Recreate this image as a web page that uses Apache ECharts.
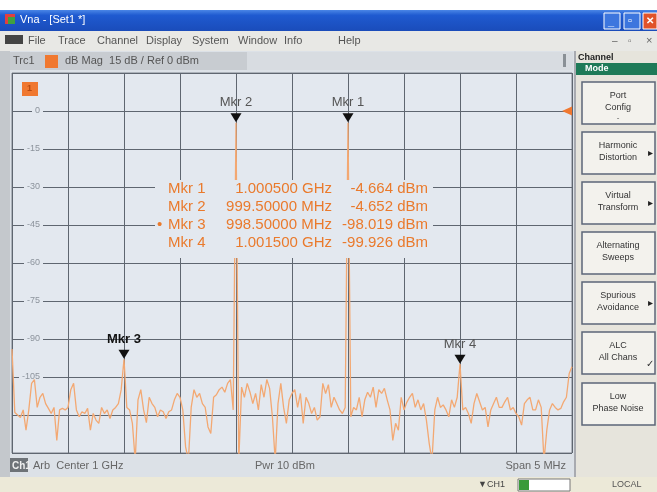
<!DOCTYPE html>
<html><head><meta charset="utf-8">
<script src="https://cdn.jsdelivr.net/npm/echarts@6/dist/echarts.min.js"></script>
<style>html,body{margin:0;padding:0;background:#fff;}#c{width:657px;height:492px;}</style>
</head><body><div id="c"></div>
<script>
// ---- data ----
const startMHz = 997.5, stopMHz = 1002.5, sweepPoints = 201;
const yLabelTicks = [0, -15, -30, -45, -60, -75, -90, -105];
const traceLevels = [
  -94, -119, -120, -121, -118, -126, -118, -107.5, -106, -117,
  -113, -111.5, -115.5, -117.4, -119.4, -117, -130, -118, -117.4, -118,
  -117, -110, -107.5, -118, -120.7, -118.7, -119.4, -117.4, -126, -119.4,
  -122, -123.3, -117, -119.4, -118, -121.4, -118, -117, -115.5, -110,
  -98.019, -117, -118, -123.3, -138, -114, -110, -118, -123, -113,
  -115.5, -117, -120.7, -118, -118.7, -121.4, -118.7, -118, -114, -111.5,
  -113, -118, -132.6, -138, -117, -110, -113, -111.5, -115.5, -117,
  -124.7, -127.3, -113, -112, -110, -109, -111, -107.5, -106, -118,
  -4.652, -138, -109, -113, -107.5, -111, -115.5, -111.5, -118, -108,
  -113, -106, -109.5, -120.7, -138, -115.5, -107.5, -117, -123.3, -114,
  -111.5, -110, -117, -111.5, -123.3, -113, -115.5, -119.4, -117, -122,
  -120.7, -107.5, -111.5, -108, -117, -113, -115.5, -118, -119.4, -117,
  -4.664, -120.7, -117, -118, -113, -120.7, -114, -111, -113, -109,
  -117, -110, -111.5, -109.5, -114, -118, -130, -123.3, -126, -113,
  -118, -115, -113, -111.5, -117, -114, -118, -115.5, -122, -131.2,
  -138, -118, -113, -117, -116, -118, -120.7, -114, -117, -113,
  -99.926, -118, -117, -119.4, -123.3, -115.5, -111.5, -114.8, -118, -117,
  -124.7, -118, -115.5, -113, -117, -117, -114.8, -113, -118, -117,
  -119.4, -120.7, -124, -115.5, -114, -113, -118, -118, -114, -117,
  -138, -126, -118, -115.5, -117, -118, -117.4, -114.8, -113, -103.6,
  -101
];
const markerNames = ['Mkr 1', 'Mkr 2', 'Mkr 3', 'Mkr 4'];
const markerFreqMHz = [1000.5, 999.5, 998.5, 1001.5];
const markerLevels = [-4.664, -4.652, -98.019, -99.926];
const markerFreqText = ['1.000500 GHz', '999.50000 MHz', '998.50000 MHz', '1.001500 GHz'];
const markerLevelText = ['-4.664 dBm', '-4.652 dBm', '-98.019 dBm', '-99.926 dBm'];
const activeMarker = 2;
const refLevel = 0;
const menuItems = ['File', 'Trace', 'Channel', 'Display', 'System', 'Window', 'Info', 'Help'];
const softkeys = [['Port', 'Config'], ['Harmonic', 'Distortion'], ['Virtual', 'Transform'],
  ['Alternating', 'Sweeps'], ['Spurious', 'Avoidance'], ['ALC', 'All Chans'], ['Low', 'Phase Noise']];
const softkeyFlags = ['', '▸', '▸', '', '▸', '✓', ''];

// ---- build ----
const step = (stopMHz - startMHz) / (sweepPoints - 1);
const traceData = traceLevels.map((v, i) => [startMHz + i * step, v]);
const FONT = 'Liberation Sans';

const mpData = [];
markerNames.forEach((n, k) => {
  mpData.push({ coord: [markerFreqMHz[k], markerLevels[k]], symbol: 'triangle', symbolSize: [11, 9],
    symbolRotate: 180, symbolOffset: [0, -5], itemStyle: { color: '#111' }, label: { show: false } });
  mpData.push({ coord: [markerFreqMHz[k], markerLevels[k]], symbol: 'rect', symbolSize: 1,
    itemStyle: { color: 'rgba(0,0,0,0)' },
    label: { show: true, position: 'top', distance: 13, formatter: n, fontFamily: FONT, fontSize: 13,
      color: k === activeMarker ? '#111' : '#555', fontWeight: k === activeMarker ? 'bold' : 'normal' } });
});
mpData.push({ coord: [stopMHz, refLevel], symbol: 'triangle', symbolSize: [9, 10], symbolRotate: 90,
  symbolOffset: [-5, 0], itemStyle: { color: '#f07830' }, label: { show: false } });

const g = [];
const R = (x, y, w, h, fill, extra) => g.push(Object.assign({ type: 'rect', z: -10, shape: { x, y, width: w, height: h }, style: { fill }, silent: true }, extra || {}));
const T = (x, y, text, st, extra) => g.push(Object.assign({ type: 'text', z: -9, x, y, silent: true,
  style: Object.assign({ text, fontFamily: FONT, fontSize: 11, fill: '#333', verticalAlign: 'middle' }, st) }, extra || {}));

// window chrome
R(0, 10, 657, 21, new echarts.graphic.LinearGradient(0, 0, 0, 1, [{ offset: 0, color: '#4a86e6' }, { offset: 0.25, color: '#1f5ad0' }, { offset: 1, color: '#1a4cba' }]));
R(5, 14, 10, 10, '#e04040'); R(8, 17, 7, 7, '#40a040');
T(20, 20, 'Vna - [Set1 *]', { fill: '#fff', fontSize: 11 });
R(604, 13, 16, 16, '#3d76de', { style: { fill: '#3d76de', stroke: '#fff', lineWidth: 1 } });
R(624, 13, 16, 16, '#3d76de', { style: { fill: '#3d76de', stroke: '#fff', lineWidth: 1 } });
R(643, 13, 14, 16, '#e0522a', { style: { fill: '#e0522a', stroke: '#fff', lineWidth: 1 } });
T(608, 22, '_', { fill: '#fff', fontSize: 11, fontWeight: 'bold' });
T(628, 21, '▫', { fill: '#fff', fontSize: 11 });
T(646, 21, '✕', { fill: '#fff', fontSize: 10, fontWeight: 'bold' });
R(0, 31, 657, 20, '#e8e8e5');
R(5, 35, 18, 9, '#444');
const menuX = [28, 58, 97, 146, 192, 238, 284, 338];
menuItems.forEach((m, i) => T(menuX[i], 41, m, { fill: '#555', fontSize: 11 }));
T(612, 41, '–', { fill: '#666', fontSize: 10 });
T(628, 41, '▫', { fill: '#666', fontSize: 10 });
T(646, 41, '×', { fill: '#666', fontSize: 11 });

// diagram area
R(0, 51, 575, 426, '#dce1e7');
R(0, 51, 10, 426, '#c4c8cc');
R(10, 52, 237, 18, '#c8ccd1');
R(247, 52, 326, 18, '#d8dce1');
T(13, 61, 'Trc1', { fill: '#555', fontSize: 11 });
R(45, 55, 13, 13, '#f07830');
T(65, 61, 'dB Mag  15 dB / Ref 0 dBm', { fill: '#555', fontSize: 11 });
R(563, 54, 3, 13, '#8a9096');

// marker readout box
R(155, 180, 278, 78, '#e3e8ef', { z: 100 });
markerNames.forEach((n, k) => {
  const y = 189 + k * 18;
  const st = { fill: '#ea7a2c', fontSize: 15 };
  T(168, y, n, st, { z: 101 });
  T(332, y, markerFreqText[k], Object.assign({ align: 'right' }, st), { z: 101 });
  T(428, y, markerLevelText[k], Object.assign({ align: 'right' }, st), { z: 101 });
  if (k === activeMarker) T(157, y, '•', { fill: '#ea7a2c', fontSize: 15 }, { z: 101 });
});
// trace indicator inside diagram
R(22, 82, 16, 14, '#f07830', { z: 100 });
T(27, 89, '1', { fill: '#b84a10', fontSize: 9, fontWeight: 'bold' }, { z: 101 });

// bottom info row
R(10, 458, 18, 14, '#6e7378');
T(12, 466, 'Ch1', { fill: '#eee', fontSize: 10, fontWeight: 'bold' });
T(33, 466, 'Arb  Center 1 GHz', { fill: '#666', fontSize: 11 });
T(255, 466, 'Pwr 10 dBm', { fill: '#666', fontSize: 11 });
T(566, 466, 'Span 5 MHz', { fill: '#666', fontSize: 11, align: 'right' });

// status bar
R(0, 477, 657, 15, '#ece9d8');
T(478, 485, '▼CH1', { fill: '#444', fontSize: 9 });
R(518, 479, 52, 12, '#fff', { style: { fill: '#fff', stroke: '#777', lineWidth: 1 } });
R(519, 480, 10, 10, '#3a9a3a');
T(612, 485, 'LOCAL', { fill: '#555', fontSize: 9 });

// right panel
R(575, 51, 82, 426, '#e6e4dc');
R(574, 51, 2, 426, '#a8aab0');
T(578, 58, 'Channel', { fill: '#222', fontSize: 9, fontWeight: 'bold' });
R(576, 63, 81, 12, '#1e7a58');
T(585, 69, 'Mode', { fill: '#fff', fontSize: 9, fontWeight: 'bold' });
const keyTop = [82, 132, 182, 232, 282, 332, 383];
softkeys.forEach((s, i) => {
  const y0 = keyTop[i];
  R(582, y0, 73, 42, '#f3f2ed', { style: { fill: '#f3f2ed', stroke: '#5c6678', lineWidth: 1.5 } });
  T(618, y0 + 14, s[0], { fill: '#333', fontSize: 9, align: 'center' });
  T(618, y0 + 26, s[1], { fill: '#333', fontSize: 9, align: 'center' });
  if (softkeyFlags[i] === '▸') T(648, y0 + 21, '▸', { fill: '#222', fontSize: 10 });
  if (softkeyFlags[i] === '✓') T(646, y0 + 32, '✓', { fill: '#333', fontSize: 10 });
  if (i === 0) T(618, y0 + 36, '-', { fill: '#555', fontSize: 8, align: 'center' });
});

const chart = echarts.init(document.getElementById('c'), null, { renderer: 'canvas' });
chart.setOption({
  animation: false,
  grid: { left: 12, top: 73, width: 560, height: 380, show: true, backgroundColor: '#e3e8ef', borderColor: '#7c838c', borderWidth: 1 },
  xAxis: { type: 'value', min: startMHz, max: stopMHz, interval: 0.5,
    axisLine: { show: false }, axisTick: { show: false }, axisLabel: { show: false },
    splitLine: { show: true, lineStyle: { color: '#5f6670', width: 1 } } },
  yAxis: { type: 'value', min: -135, max: 15, interval: 15,
    axisLine: { show: false }, axisTick: { show: false },
    axisLabel: { inside: true, align: 'right', margin: 31, color: '#8c939c', fontSize: 9, fontFamily: FONT,
      backgroundColor: '#e3e8ef', padding: [0, 3],
      formatter: v => yLabelTicks.includes(v) ? String(v) : '' },
    splitLine: { show: true, lineStyle: { color: '#5f6670', width: 1 } } },
  graphic: { elements: g },
  series: [{
    type: 'line', data: traceData, symbol: 'none', clip: true, z: 5,
    lineStyle: { color: '#f3a872', width: 1.3 },
    markPoint: { silent: true, animation: false, data: mpData }
  }]
});
</script></body></html>
